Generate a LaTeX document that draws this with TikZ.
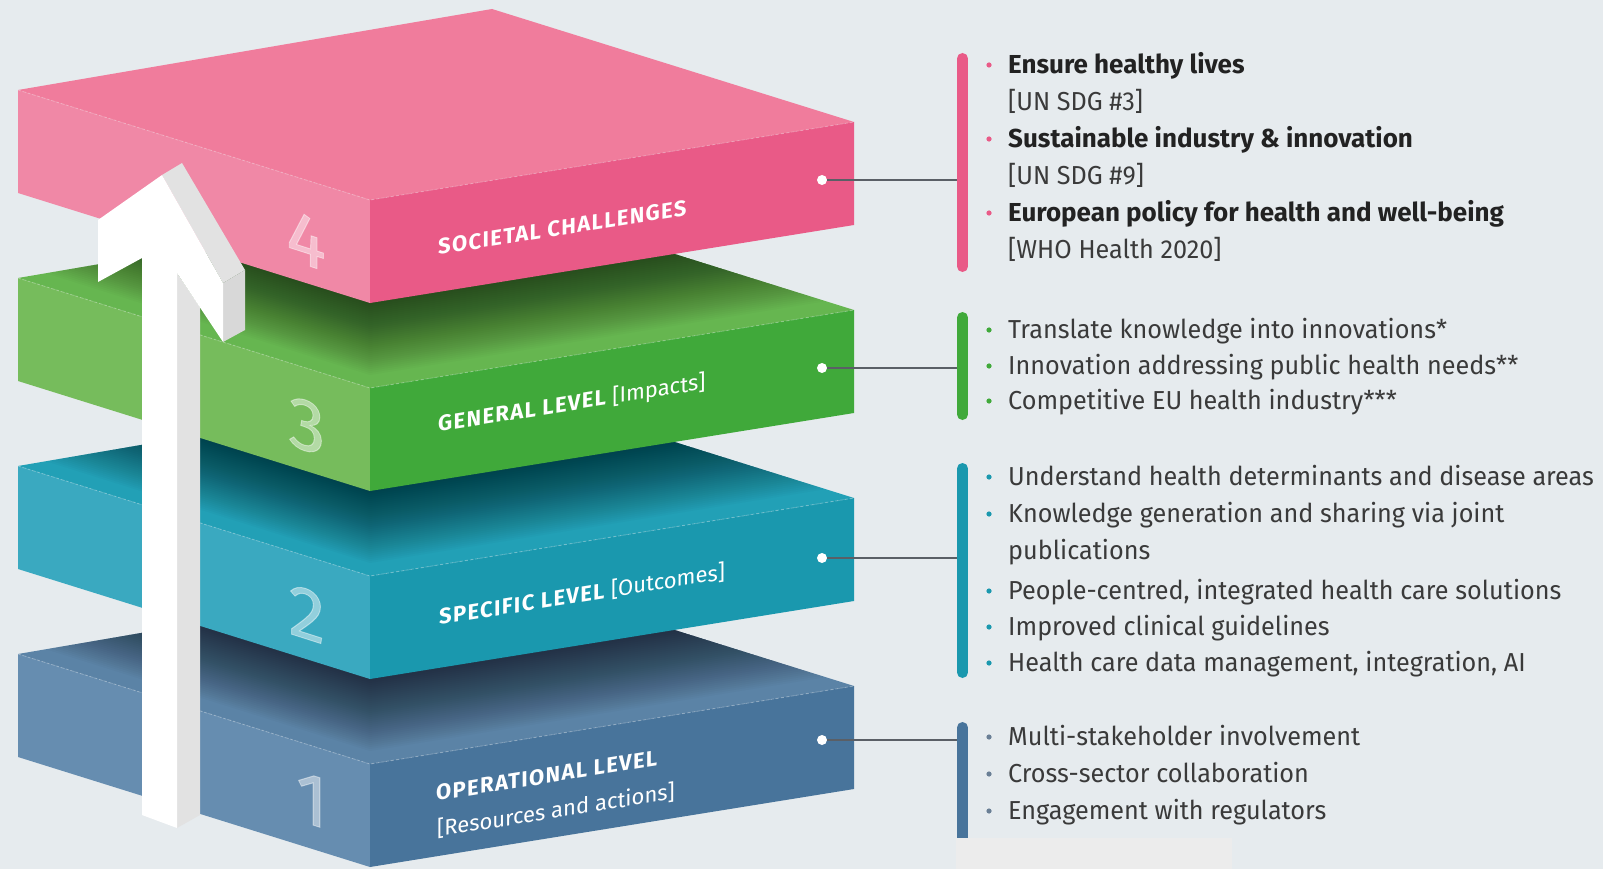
\documentclass[tikz,border=0pt]{standalone}
\usepackage{fontspec}
\setmainfont{Fira Sans}
\definecolor{bg}{HTML}{E6EBEE}
\definecolor{pinkT}{HTML}{F07C9C}
\definecolor{pinkL}{HTML}{F088A6}
\definecolor{pinkR}{HTML}{E95A87}
\definecolor{greenT}{HTML}{66B650}
\definecolor{greenL}{HTML}{76BC5C}
\definecolor{greenR}{HTML}{40A93A}
\definecolor{tealT}{HTML}{22A0B6}
\definecolor{tealL}{HTML}{3AA9C0}
\definecolor{tealR}{HTML}{1A98AE}
\definecolor{blueT}{HTML}{5B83A6}
\definecolor{blueL}{HTML}{668DB0}
\definecolor{blueR}{HTML}{48749B}
\definecolor{txt}{HTML}{3A3A3A}
\definecolor{txtb}{HTML}{222222}
\definecolor{conncol}{HTML}{5A5F66}
\definecolor{arrowside}{HTML}{E2E2E2}
\definecolor{arrowend}{HTML}{D8D8D8}
\definecolor{bulblue}{HTML}{6A7F95}
\definecolor{boxgray}{HTML}{ECECEC}
\newcommand\myslab[4]{%
 \begin{scope}[shift={(0,#1)}]
  \fill[#2] (18,90) -- (492,9) -- (854,122) -- (370,200) -- cycle;
  \fill[#3] (18,90) -- (370,200) -- (370,303) -- (18,193) -- cycle;
  \fill[#4] (370,200) -- (854,122) -- (854,225) -- (370,303) -- cycle;
  \draw[white,opacity=0.22,line width=1pt,densely dashed] (18,90) -- (370,200) -- (854,122);
 \end{scope}}
\newcommand\myshadow[1]{%
 \begin{scope}[shift={(0,#1)}]
  \clip (18,90) -- (492,9) -- (854,122) -- (370,200) -- cycle;
  \foreach \d in {0,2,...,72}
   \fill[black,opacity=0.02] (10,{2+\d}) -- (370,{115+\d}) -- (870,{34+\d}) -- (870,-120) -- (10,-120) -- cycle;
 \end{scope}}
\tikzset{
 slabtxt/.style={anchor=base west, inner sep=0, text=white, yslant=0.16,
   font=\fontsize{22}{26}\selectfont\bfseries\addfontfeatures{LetterSpace=6}},
 numtxt/.style={inner sep=0, text=white, text opacity=0.45, yslant=-0.32,
   font=\fontsize{74}{74}\selectfont\addfontfeatures{FakeBold=1.2}},
 dotn/.style={circle, fill=white, inner sep=0, minimum size=10pt},
 conn/.style={conncol, line width=2pt},
 bar/.style={line width=11pt, line cap=round},
 item/.style={anchor=mid west, inner sep=0, text=txt, font=\fontsize{26}{30}\selectfont\addfontfeatures{FakeStretch=0.97}},
 itemb/.style={anchor=mid west, inner sep=0, text=txtb, font=\fontsize{26}{30}\selectfont\bfseries},
}
\begin{document}
\begin{tikzpicture}[x=1pt,y=-1pt]
\fill[bg] (0,0) rectangle (1603,869);
\useasboundingbox (0,0) rectangle (1603,869);
% slabs, bottom to top
\myslab{564}{blueT}{blueL}{blueR}
\myshadow{564}
\myslab{376}{tealT}{tealL}{tealR}
\myshadow{376}
\myslab{188}{greenT}{greenL}{greenR}
\myshadow{188}
\myslab{0}{pinkT}{pinkL}{pinkR}
% slab labels
\node[slabtxt] (l4) at (438,255) {SOCIETAL CHALLENGES};
\node[slabtxt] (l3) at (438,432) {GENERAL LEVEL {\mdseries\addfontfeatures{LetterSpace=0}[Impacts]}};
\node[slabtxt] (l2) at (439,625) {SPECIFIC LEVEL {\mdseries\addfontfeatures{LetterSpace=0}[Outcomes]}};
\node[slabtxt] (l1a) at (436,801) {OPERATIONAL LEVEL};
\node[slabtxt] (l1b) at (437,837) {\mdseries\addfontfeatures{LetterSpace=0}[Resources and actions]};
% numbers
\node[numtxt] (n4) at (306,240) {4};
\node[numtxt] (n3) at (307,426) {3};
\node[numtxt] (n2) at (307,614) {2};
\node[numtxt] (n1) at (312,800) {1};
% arrow
\fill[arrowside] (177,273) -- (200,307) -- (200,815) -- (177,828) -- cycle;
\fill[arrowside] (162,175) -- (182,163) -- (245,270) -- (223,283) -- cycle;
\fill[arrowend] (223,283) -- (245,270) -- (245,330) -- (223,342) -- cycle;
\fill[white] (142,815) -- (177,828) -- (177,273) -- (223,342) -- (223,283) -- (162,175) -- (98,220) -- (98,282) -- (142,258) -- cycle;
% connectors
\node[dotn] (d4) at (822,180) {};
\node[dotn] (d3) at (822,368) {};
\node[dotn] (d2) at (822,558) {};
\node[dotn] (d1) at (822,740) {};
\coordinate (b4) at (962,180);
\coordinate (b3) at (962,368);
\coordinate (b2) at (962,558);
\coordinate (b1) at (962,740);
\draw[conn] (d4) -- (b4);
\draw[conn] (d3) -- (b3);
\draw[conn] (d2) -- (b2);
\draw[conn] (d1) -- (b1);
\draw[bar,pinkR] (962.5,58.5) -- (962.5,266.5);
\draw[bar,greenR] (962.5,317.5) -- (962.5,414.5);
\draw[bar,tealR] (962.5,468.5) -- (962.5,672.5);
\draw[bar,blueR] (962.5,727.5) -- (962.5,850);
\fill[boxgray] (956,838) rectangle (1232,869);
% bullets
\foreach \y in {65,139,213} \fill[pinkR] (989,\y) circle (2.6);
\foreach \y in {330,366,401} \fill[greenR] (989,\y) circle (2.6);
\foreach \y in {477,514,591,627,663} \fill[tealR] (989,\y) circle (2.6);
\foreach \y in {737,774,811} \fill[bulblue] (989,\y) circle (2.6);
% texts
\node[itemb] (t41) at (1008,71) {Ensure healthy lives};
\node[item] (t42) at (1008,108) {[UN SDG \#3]};
\node[itemb] (t43) at (1008,145) {Sustainable industry \& innovation};
\node[item] (t44) at (1008,182) {[UN SDG \#9]};
\node[itemb] (t45) at (1008,219) {European policy for health and well-being};
\node[item] (t46) at (1008,256) {[WHO Health 2020]};
\node[item] (t31) at (1008,336) {Translate knowledge into innovations*};
\node[item] (t32) at (1008,372) {Innovation addressing public health needs**};
\node[item] (t33) at (1008,407) {Competitive EU health industry***};
\node[item] (t21) at (1008,483) {Understand health determinants and disease areas};
\node[item] (t22) at (1008,520) {Knowledge generation and sharing via joint};
\node[item] (t23) at (1008,557) {publications};
\node[item] (t24) at (1008,597) {People-centred, integrated health care solutions};
\node[item] (t25) at (1008,633) {Improved clinical guidelines};
\node[item] (t26) at (1008,669) {Health care data management, integration, AI};
\node[item] (t11) at (1008,743) {Multi-stakeholder involvement};
\node[item] (t12) at (1008,780) {Cross-sector collaboration};
\node[item] (t13) at (1008,817) {Engagement with regulators};
\end{tikzpicture}
\end{document}
